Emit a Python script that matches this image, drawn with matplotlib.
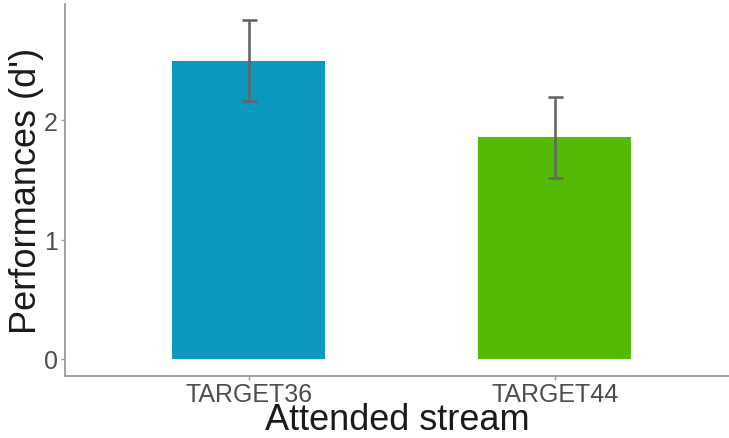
import numpy as np
import matplotlib.pyplot as plt

plt.rcParams['font.family'] = ['Liberation Sans', 'DejaVu Sans']

# data
streams = ['TARGET36', 'TARGET44']
dprime = [2.50, 1.86]
err_low = [2.16, 1.52]
err_high = [2.84, 2.20]
bar_colors = ['#0b99c0', '#53bb02']

x = np.arange(1, len(streams) + 1)
lower = np.array(dprime) - np.array(err_low)
upper = np.array(err_high) - np.array(dprime)

fig = plt.figure(figsize=(7.29, 4.39), dpi=100)
ax = fig.add_axes([65 / 729, 1 - 376.5 / 439, 664 / 729, 372 / 439])

ax.bar(x, dprime, width=0.5, color=bar_colors, zorder=1)
ax.errorbar(x, dprime, yerr=[lower, upper], fmt='none', ecolor='#666666',
            elinewidth=1.9, capsize=5.4, capthick=1.9, zorder=2)

ax.set_xlim(0.4, 2.569)
ax.set_ylim(-0.14, 2.98)
ax.set_xticks(x)
ax.set_xticklabels(streams)
ax.set_yticks([0, 1, 2])

for side in ['top', 'right']:
    ax.spines[side].set_visible(False)
for side in ['left', 'bottom']:
    ax.spines[side].set_color('#9a9a9a')
    ax.spines[side].set_linewidth(1.3)

ax.tick_params(axis='both', colors='#9a9a9a', labelcolor='#4d4d4d',
               length=3, width=1, labelsize=18, pad=2)

ax.set_xlabel('Attended stream', fontsize=26, color='#1a1a1a', labelpad=-3)
ax.set_ylabel("Performances (d')", fontsize=26, color='#1a1a1a', labelpad=0)

fig.savefig('out.png', dpi=100)
